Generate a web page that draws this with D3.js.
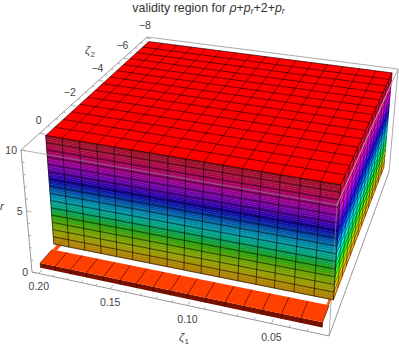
<!DOCTYPE html>
<html>
<head>
<meta charset="utf-8">
<script src="https://cdnjs.cloudflare.com/ajax/libs/d3/7.8.5/d3.min.js"></script>
<style>
  html, body { margin: 0; padding: 0; background: #fff; }
  text { font-family: "Liberation Sans", Arial, sans-serif; fill: #444; }
</style>
</head>
<body>
<div id="graph-wrapper"></div>
<script>
// axis ticks
const zeta1Ticks = [0.20, 0.15, 0.10, 0.05]
const zeta1Minor = [0.19, 0.18, 0.17, 0.16, 0.14, 0.13, 0.12, 0.11, 0.09, 0.08, 0.07, 0.06, 0.04, 0.03]
const zeta2Ticks = [0, -2, -4, -6, -8]
const zeta2Minor = [-0.5, -1, -1.5, -2.5, -3, -3.5, -4.5, -5, -5.5, -6.5, -7, -7.5]
const rTicks = [0, 5, 10]
const rMinor = [1, 2, 3, 4, 6, 7, 8, 9]

// mesh of the solid block
const zeta1Mesh = [0.201, 0.190, 0.1785, 0.167, 0.156, 0.145, 0.1335, 0.122, 0.111, 0.100, 0.0885, 0.077, 0.066, 0.055, 0.0435, 0.032, 0.021]
const zeta2Mesh = [0, -0.56, -1.11, -1.67, -2.23, -2.79, -3.34, -3.9, -4.46, -5.01, -5.57, -6.13, -6.69, -7.24, -7.8]
const rMesh = [0.8, 1.41, 2.01, 2.62, 3.23, 3.83, 4.44, 5.05, 5.65, 6.26, 6.87, 7.47, 8.08, 8.69, 9.29, 9.9]

// colours along r, one per rMesh entry
const frontColors = ["#b07800", "#a88c00", "#8ea000", "#5ea000", "#20a010", "#00a060", "#00a0a0", "#0078a8", "#0038a4", "#1000a0", "#5000a8", "#8000a0", "#a00080", "#a80050", "#a81038", "#980a20"]
const sideColors = ["#ff8800", "#ffc000", "#c8f000", "#60ff00", "#00ff30", "#00ffa0", "#00f0ff", "#00a0ff", "#0050ff", "#1000ff", "#7000ff", "#c000ff", "#ff00e0", "#ff0090", "#ff0040", "#e00010"]

// slab lying on the floor in front of the block
const slabZeta1 = [0.202, 0.191, 0.180, 0.169, 0.157, 0.146, 0.135, 0.124, 0.113, 0.102, 0.091, 0.079, 0.068, 0.057, 0.046, 0.035, 0.023]
const slabZeta2 = [0.82, 0.05]
const slabR = [0, 0.4]

const width = 399
const height = 346

// screen corners of the plot box, [front-left, front-right, back-right, back-left]
const topCorners = [[21, 150], [337, 205], [398, 69], [147, 37]]
const floorCorners = [[32, 272], [329, 336], [389, 172], [149, 140]]

const homography = (q) => {
    const [p0, p1, p2, p3] = q
    const dx1 = p1[0] - p2[0], dx2 = p3[0] - p2[0], sx = p0[0] - p1[0] + p2[0] - p3[0]
    const dy1 = p1[1] - p2[1], dy2 = p3[1] - p2[1], sy = p0[1] - p1[1] + p2[1] - p3[1]
    const den = dx1 * dy2 - dx2 * dy1
    const g = (sx * dy2 - dx2 * sy) / den
    const h = (dx1 * sy - sx * dy1) / den
    const a = p1[0] - p0[0] + g * p1[0], b = p3[0] - p0[0] + h * p3[0]
    const d = p1[1] - p0[1] + g * p1[1], e = p3[1] - p0[1] + h * p3[1]
    return (u, v) => {
        const w = g * u + h * v + 1
        return [(a * u + b * v + p0[0]) / w, (d * u + e * v + p0[1]) / w]
    }
}
const topPlane = homography(topCorners)
const floorPlane = homography(floorCorners)

const xScale = d3.scaleLinear().domain([0.205, 0.018]).range([0, 1])
const yScale = d3.scaleLinear().domain([1.1, -8.1]).range([0, 1])
const zScale = d3.scaleLinear().domain([0, 10]).range([0, 1])
const frontColor = d3.scaleLinear().domain(rMesh).range(frontColors)
const sideColor = d3.scaleLinear().domain(rMesh).range(sideColors)

const project = (z1, z2, r) => {
    const u = xScale(z1), v = yScale(z2), t = zScale(r)
    const a = floorPlane(u, v), b = topPlane(u, v)
    return [a[0] + (b[0] - a[0]) * t, a[1] + (b[1] - a[1]) * t]
}

const svg = d3.select("#graph-wrapper")
    .append("svg")
    .attr("width", width)
    .attr("height", height)
    .attr("viewBox", [0, 0, width, height])
    .style("display", "block")

const line = d3.line()
const poly = (pts) => line(pts) + "Z"
const first = (a) => a[0]
const last = (a) => a[a.length - 1]

const boxLine = (g, a, b, color, op) => g.append("path")
    .attr("d", line([project(...a), project(...b)]))
    .attr("stroke", color).attr("stroke-width", 1).attr("stroke-opacity", op).attr("fill", "none")

const [xa, xb] = xScale.domain()
const [ya, yb] = yScale.domain()

// back of the box
const back = svg.append("g")
boxLine(back, [xa, yb, 10], [xb, yb, 10], "#aaa", 1)
boxLine(back, [xb, yb, 10], [xb, yb, 0], "#aaa", 1)
boxLine(back, [xa, ya, 10], [xa, yb, 10], "#999", 1)
boxLine(back, [xa, ya, 10], [xa, ya, 0], "#999", 1)
boxLine(back, [xa, ya, 0], [xb, ya, 0], "#999", 1)
boxLine(back, [xb, ya, 0], [xb, yb, 0], "#999", 1)

// thin rails running back from the slab
const rails = svg.append("g")
rails.append("path")
    .attr("d", poly([project(0.2015, slabZeta2[1], 0.4), project(0.1985, slabZeta2[1], 0.4), project(0.1985, -1, 0.4), project(0.2015, -1, 0.4)]))
    .attr("fill", "#ff4a10")
rails.append("path")
    .attr("d", poly([project(0.0245, slabZeta2[1], 0.4), project(0.023, slabZeta2[1], 0.4), project(0.023, last(zeta2Mesh), 0.4), project(0.0245, last(zeta2Mesh), 0.4)]))
    .attr("fill", "#ff5a10")

// slab
const slab = svg.append("g")
slab.append("path")
    .attr("d", poly([project(first(slabZeta1), slabZeta2[0], slabR[0]), project(last(slabZeta1), slabZeta2[0], slabR[0]), project(last(slabZeta1), slabZeta2[0], slabR[1]), project(first(slabZeta1), slabZeta2[0], slabR[1])]))
    .attr("fill", "#781000")
slab.append("path")
    .attr("d", poly([project(first(slabZeta1), slabZeta2[0], slabR[1]), project(last(slabZeta1), slabZeta2[0], slabR[1]), project(last(slabZeta1), slabZeta2[1], slabR[1]), project(first(slabZeta1), slabZeta2[1], slabR[1])]))
    .attr("fill", "#ff4000")
slab.selectAll("path.cell")
    .data(slabZeta1)
    .enter()
    .append("path")
    .attr("class", "cell")
    .attr("d", d => line([project(d, slabZeta2[0], slabR[0]), project(d, slabZeta2[0], slabR[1]), project(d, slabZeta2[1], slabR[1])]))
    .attr("fill", "none").attr("stroke", "#300").attr("stroke-width", 0.6)

// colour bands, four per mesh row so the gradient stays smooth
const bands = []
d3.pairs(rMesh).forEach(([lo, hi]) => {
    d3.range(4).forEach(i => bands.push([lo + (hi - lo) * i / 4, lo + (hi - lo) * (i + 1) / 4]))
})

const drawBands = (g, quad, color) => {
    g.selectAll("path.band")
        .data(bands)
        .enter()
        .append("path")
        .attr("class", "band")
        .attr("d", d => poly(quad(d[0], d[1])))
        .attr("fill", d => color((d[0] + d[1]) / 2))
        .attr("stroke", d => color((d[0] + d[1]) / 2))
        .attr("stroke-width", 0.4)
}

const drawGrid = (g, paths, op, sw) => {
    g.selectAll("path.grid")
        .data(paths)
        .enter()
        .append("path")
        .attr("class", "grid")
        .attr("d", d => line(d))
        .attr("fill", "none")
        .attr("stroke", "#000")
        .attr("stroke-opacity", op)
        .attr("stroke-width", sw)
}

const rTop = last(rMesh), rBottom = first(rMesh)
const xL = first(zeta1Mesh), xR = last(zeta1Mesh)
const yF = first(zeta2Mesh), yB = last(zeta2Mesh)

// side facing right
const sideFace = svg.append("g")
drawBands(sideFace, (lo, hi) => [project(xR, yF, lo), project(xR, yB, lo), project(xR, yB, hi), project(xR, yF, hi)], sideColor)
drawGrid(sideFace, [
    ...rMesh.map(r => [project(xR, yF, r), project(xR, yB, r)]),
    ...zeta2Mesh.map(y => [project(xR, y, rBottom), project(xR, y, rTop)])
], 0.75, 0.55)

// front wall
const frontFace = svg.append("g")
drawBands(frontFace, (lo, hi) => [project(xL, yF, lo), project(xR, yF, lo), project(xR, yF, hi), project(xL, yF, hi)], frontColor)
drawGrid(frontFace, [
    ...rMesh.map(r => [project(xL, yF, r), project(xR, yF, r)]),
    ...zeta1Mesh.map(x => [project(x, yF, rBottom), project(x, yF, rTop)])
], 0.85, 0.7)

// top
const topFace = svg.append("g")
topFace.append("path")
    .attr("d", poly([project(xL, yF, rTop), project(xR, yF, rTop), project(xR, yB, rTop), project(xL, yB, rTop)]))
    .attr("fill", "#ff0000")
drawGrid(topFace, [
    ...zeta1Mesh.map(x => [project(x, yF, rTop), project(x, yB, rTop)]),
    ...zeta2Mesh.map(y => [project(xL, y, rTop), project(xR, y, rTop)])
], 0.8, 0.7)

// front of the box, drawn over the block
const fore = svg.append("g")
boxLine(fore, [xa, ya, 10], [xb, ya, 10], "#888", 0.65)
boxLine(fore, [xb, ya, 10], [xb, ya, 0], "#888", 0.65)
boxLine(fore, [xb, ya, 10], [xb, yb, 10], "#aaa", 1)

// ticks: each one starts on a box edge and leans along another axis
const tickPath = (from, dir, len) => {
    const p = project(...from), q = project(from[0] + dir[0], from[1] + dir[1], from[2] + dir[2])
    const n = Math.hypot(q[0] - p[0], q[1] - p[1])
    return line([p, [p[0] + (q[0] - p[0]) / n * len, p[1] + (q[1] - p[1]) / n * len]])
}
const tickSets = [
    ...zeta1Ticks.map(d => [[d, ya, 0], [0, -1, 0], 5]),
    ...zeta1Minor.map(d => [[d, ya, 0], [0, -1, 0], 2.5]),
    ...zeta2Ticks.map(d => [[xa, d, 10], [-0.01, 0, 0], 5]),
    ...zeta2Minor.map(d => [[xa, d, 10], [-0.01, 0, 0], 2.5]),
    ...rTicks.map(d => [[xa, ya, d], [-0.01, 0, 0], 5]),
    ...rMinor.map(d => [[xa, ya, d], [-0.01, 0, 0], 2.5])
]
svg.append("g").selectAll("path")
    .data(tickSets)
    .enter()
    .append("path")
    .attr("d", d => tickPath(d[0], d[1], d[2]))
    .attr("stroke", "#999").attr("stroke-width", 0.8).attr("fill", "none")

const fmtMinus = (d) => d < 0 ? "\u2212" + Math.abs(d) : String(d)

const labels = svg.append("g").attr("font-size", 10.5).attr("text-anchor", "middle")
labels.selectAll("text.z1")
    .data(zeta1Ticks)
    .enter()
    .append("text").attr("class", "z1")
    .attr("x", d => project(d, ya, 0)[0])
    .attr("y", d => project(d, ya, 0)[1] + 17)
    .text(d => d3.format(".2f")(d))
labels.selectAll("text.z2")
    .data(zeta2Ticks)
    .enter()
    .append("text").attr("class", "z2")
    .attr("x", d => project(xa, d, 10)[0] - 1)
    .attr("y", d => project(xa, d, 10)[1] - 9)
    .text(fmtMinus)
labels.selectAll("text.r")
    .data(rTicks)
    .enter()
    .append("text").attr("class", "r")
    .attr("text-anchor", "end")
    .attr("x", d => project(xa, ya, d)[0] - 4)
    .attr("y", d => project(xa, ya, d)[1] + 4)
    .text(d => d)

// axis names
const zetaLabel = (x, y, sub) => {
    const t = svg.append("text").attr("x", x).attr("y", y).attr("font-size", 11.5).attr("text-anchor", "middle")
    t.append("tspan").attr("font-style", "italic").text("\u03B6")
    t.append("tspan").attr("font-size", 8).attr("dy", 2.5).text(sub)
}
zetaLabel(90, 54, "2")
zetaLabel(184, 341, "1")
svg.append("text").attr("x", 0).attr("y", 210).attr("font-size", 11.5).attr("font-style", "italic").text("r")

// title
const title = svg.append("text").attr("x", 208.5).attr("y", 12).attr("font-size", 12.4).attr("text-anchor", "middle").style("fill", "#333")
title.append("tspan").text("validity region for ")
title.append("tspan").attr("font-style", "italic").text("\u03C1")
title.append("tspan").text("+")
title.append("tspan").attr("font-style", "italic").text("p")
title.append("tspan").attr("font-style", "italic").attr("font-size", 8.5).attr("dy", 2).text("r")
title.append("tspan").attr("dy", -2).text("+2+")
title.append("tspan").attr("font-style", "italic").text("p")
title.append("tspan").attr("font-style", "italic").attr("font-size", 8.5).attr("dy", 2).text("r")
</script>
</body>
</html>
